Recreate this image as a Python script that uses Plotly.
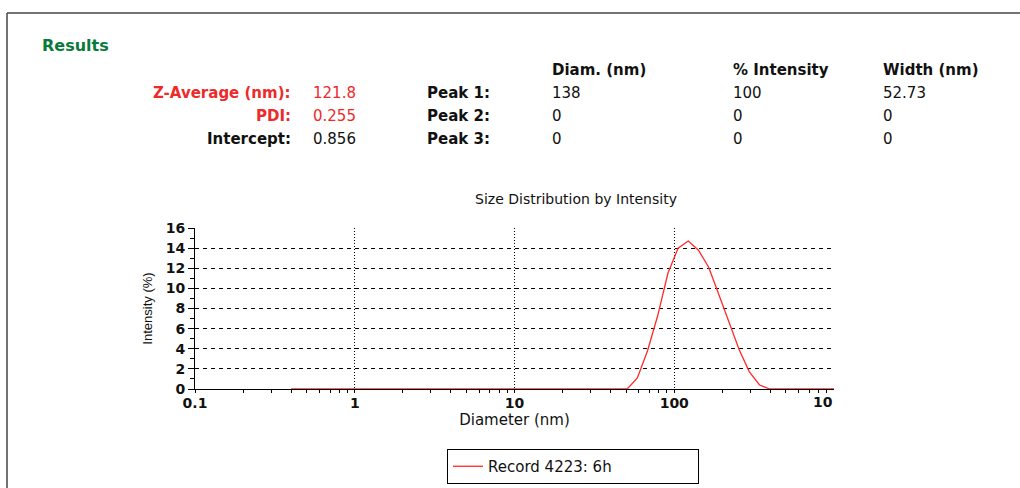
import plotly.graph_objects as go

# ---------------- data ----------------
diameter_nm = [0.4, 0.4632, 0.5365, 0.6213, 0.7195, 0.8332, 0.9649, 1.117, 1.294, 1.499,
               1.736, 2.010, 2.328, 2.696, 3.122, 3.615, 4.187, 4.849, 5.615, 6.503,
               7.531, 8.721, 10.10, 11.70, 13.54, 15.69, 18.17, 21.04, 24.36, 28.21,
               32.67, 37.84, 43.82, 50.75, 58.77, 68.06, 78.82, 91.28, 105.7, 122.4,
               141.8, 164.2, 190.1, 220.2, 255.0, 295.3, 342.0, 396.1, 458.7, 531.2,
               615.1, 712.4, 825.0, 955.4, 1106.0]
intensity_pct = [0, 0, 0, 0, 0, 0, 0, 0, 0, 0,
                 0, 0, 0, 0, 0, 0, 0, 0, 0, 0,
                 0, 0, 0, 0, 0, 0, 0, 0, 0, 0,
                 0, 0, 0, 0, 1.1, 3.8, 7.3, 11.5, 14.0, 14.7,
                 13.8, 12.1, 9.4, 6.6, 3.9, 1.7, 0.4, 0, 0, 0,
                 0, 0, 0, 0, 0]
series_name = "Record 4223: 6h"

x_tick_vals = [0.1, 1, 10, 100]
x_tick_text = ["0.1", "1", "10", "100"]
y_tick_vals = [0, 2, 4, 6, 8, 10, 12, 14, 16]

summary_labels = ["Z-Average (nm):", "PDI:", "Intercept:"]
summary_values = ["121.8", "0.255", "0.856"]
summary_colors = ["#ee2a2a", "#ee2a2a", "#111111"]

peak_labels = ["Peak 1:", "Peak 2:", "Peak 3:"]
peak_headers = ["Diam. (nm)", "% Intensity", "Width (nm)"]
peak_diam = ["138", "0", "0"]
peak_intensity = ["100", "0", "0"]
peak_width = ["52.73", "0", "0"]

# ---------------- layout helpers ----------------
W, H = 1020, 488
def px(x):
    return x / W
def py(y):
    return 1 - y / H

FONT = "DejaVu Sans"
annotations = []

def add_text(x, y, text, color="#111111", size=15, weight="normal", xanchor="left"):
    annotations.append(dict(x=px(x), y=py(y), xref="paper", yref="paper", text=text,
                            showarrow=False, xanchor=xanchor, yanchor="middle",
                            font=dict(family=FONT, size=size, color=color, weight=weight)))

add_text(40, 46, "Results", color="#0a7a3c", size=16, weight="bold")

row_y = [93, 116, 139]
for lab, val, col, yy in zip(summary_labels, summary_values, summary_colors, row_y):
    add_text(293, yy, lab, color=col, weight="bold", xanchor="right")
    add_text(311, yy, val, color=col)

col_x = [550, 731, 881]
for hx, h in zip(col_x, peak_headers):
    add_text(hx, 70, h, weight="bold")
for i, yy in enumerate(row_y):
    add_text(425, yy, peak_labels[i], weight="bold")
    add_text(col_x[0], yy, peak_diam[i])
    add_text(col_x[1], yy, peak_intensity[i])
    add_text(col_x[2], yy, peak_width[i])

# clipped right-hand tick label
add_text(835, 402, "10", size=14, weight="bold", xanchor="right")

fig = go.Figure()
fig.add_trace(go.Scatter(x=diameter_nm, y=intensity_pct, mode="lines", name=series_name,
                         line=dict(color="#ff2a2a", width=1.3), showlegend=True,
                         cliponaxis=True))

fig.update_layout(
    width=W, height=H,
    margin=dict(l=0, r=0, t=0, b=0, autoexpand=False),
    paper_bgcolor="white", plot_bgcolor="white",
    title=dict(text="Size Distribution by Intensity", x=px(576), y=py(199),
               xanchor="center", yanchor="middle", xref="paper", yref="paper",
               font=dict(family=FONT, size=14, color="#111111")),
    xaxis=dict(type="log", range=[-1, 3], domain=[px(195), px(834)], automargin=False,
               showline=True, linecolor="black", linewidth=1,
               tickmode="array", tickvals=x_tick_vals, ticktext=x_tick_text,
               ticks="outside", ticklen=3, tickcolor="black", ticklabelstandoff=-2,
               minor=dict(tickmode="array",
                          tickvals=[m * d for d in (0.1, 1, 10, 100) for m in range(2, 10)],
                          ticks="outside", ticklen=3, tickcolor="black", showgrid=False),
               showgrid=True, gridcolor="black", gridwidth=1, griddash="1px,2px",
               zeroline=False,
               tickfont=dict(family=FONT, size=14, color="#111111", weight="bold"),
               title=dict(text="Diameter (nm)", standoff=0,
                          font=dict(family=FONT, size=15, color="#111111"))),
    yaxis=dict(range=[0, 16], domain=[py(389), py(228)], automargin=False,
               showline=True, linecolor="black", linewidth=1,
               tickmode="array", tickvals=y_tick_vals,
               ticks="outside", ticklen=6, tickcolor="black",
               minor=dict(dtick=1, ticks="outside", ticklen=4, tickcolor="black", showgrid=False),
               showgrid=True, gridcolor="black", gridwidth=1, griddash="4px,4px",
               zeroline=False,
               tickfont=dict(family=FONT, size=14, color="#111111", weight="bold"),
               title=dict(text="Intensity (%)", standoff=10,
                          font=dict(family="Liberation Sans Narrow, Liberation Sans", size=13,
                                    color="#111111"))),
    legend=dict(x=px(447), y=py(449), xanchor="left", yanchor="top",
                orientation="h", entrywidth=205, bordercolor="black", borderwidth=1,
                bgcolor="white", font=dict(family=FONT, size=15, color="#111111"),
                tracegroupgap=0),
    annotations=annotations,
    shapes=[
        dict(type="line", xref="paper", yref="paper", x0=px(7), x1=1, y0=py(13), y1=py(13),
             line=dict(color="#444444", width=1.5)),
        dict(type="line", xref="paper", yref="paper", x0=px(7), x1=px(7), y0=py(13), y1=0,
             line=dict(color="#444444", width=1.5)),
    ],
)

fig.write_html("out.html")
